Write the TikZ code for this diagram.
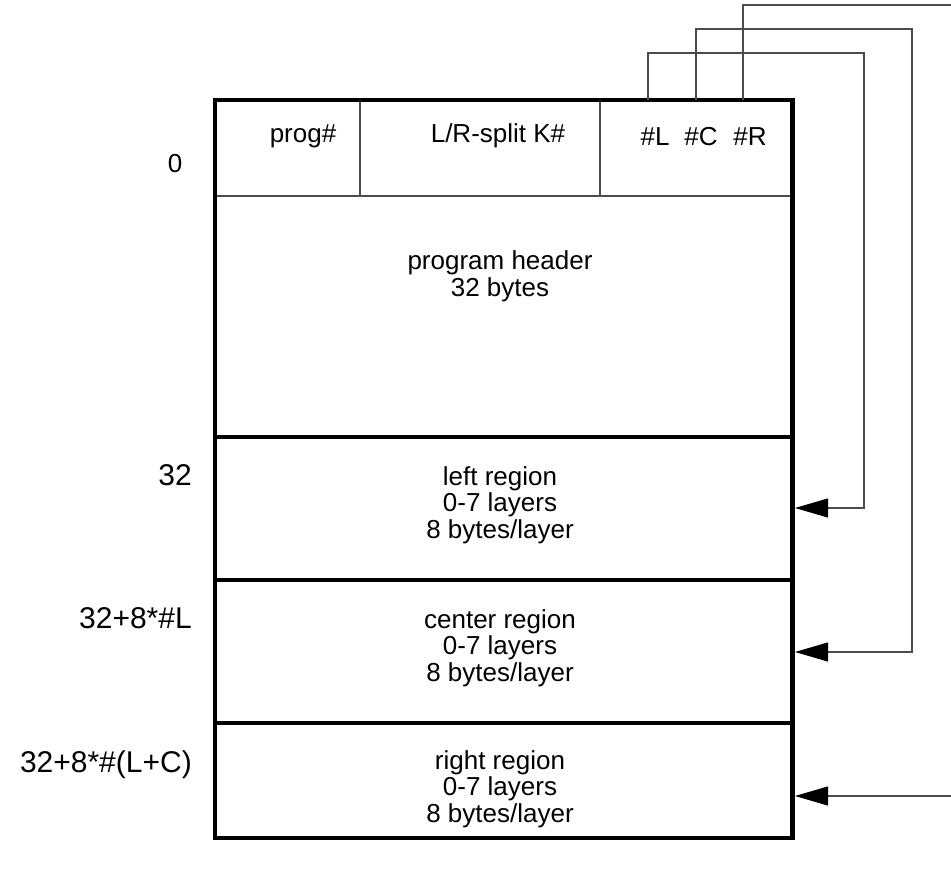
\documentclass[tikz,border=0pt]{standalone}
\usepackage{fontspec}
\setmainfont{Liberation Sans}
\usetikzlibrary{arrows.meta}
\begin{document}
\begin{tikzpicture}[x=1pt,y=-1pt,
  hair/.style={line width=1.1pt, draw=black!70},
  heavy/.style={line width=4.5pt, draw=black},
  lbl/.style={font=\fontsize{26}{26.7}\selectfont, inner sep=0pt, align=center},
  off/.style={font=\fontsize{30}{32}\selectfont, inner sep=0pt, anchor=base east},
  link/.style={line width=1.1pt, draw=black!70},
  tip/.style={-{Triangle[length=33pt,width=19pt,color=black]}}
]
\useasboundingbox (0,0) rectangle (951,869);

% coordinates of the memory box
\coordinate (tl) at (215,100);
\coordinate (br) at (792.5,838);

% header row
\draw[hair] (215,196) -- (792.5,196);
\draw[hair] (360,100) -- (360,196);
\draw[hair] (600,100) -- (600,196);

% region separators
\draw[heavy] (215,437) -- (792.5,437);
\draw[heavy] (215,580) -- (792.5,580);
\draw[heavy] (215,723) -- (792.5,723);
\draw[heavy, line join=miter] (tl) rectangle (br);

% header texts
\node[lbl, anchor=base] (prog) at (303,143) {prog\#};
\node[lbl, anchor=base] (split) at (498,143) {L/R-split K\#};
\node[lbl, anchor=base] (nl) at (655,146) {\#L};
\node[lbl, anchor=base] (nc) at (701,146) {\#C};
\node[lbl, anchor=base] (nr) at (750,146) {\#R};

% region texts
\node[lbl] (hdr) at (500,276) {program header\\32 bytes};
\node[lbl] (lreg) at (500,505) {left region\\0-7 layers\\8 bytes/layer};
\node[lbl] (creg) at (500,648) {center region\\0-7 layers\\8 bytes/layer};
\node[lbl] (rreg) at (500,789) {right region\\0-7 layers\\8 bytes/layer};

% offsets
\node[lbl, anchor=base] (o0) at (175,173) {0};
\node[off] (o32) at (192,485) {32};
\node[off] (oL) at (192,628) {32+8*\#L};
\node[off] (oLC) at (192,772) {32+8*\#(L+C)};

% connector end points
\coordinate (sL) at (648,100);
\coordinate (sC) at (696,100);
\coordinate (sR) at (743,100);
\coordinate (eL) at (795,508);
\coordinate (eC) at (795,652);
\coordinate (eR) at (795,796);
\coordinate (fR) at (951,5);
\coordinate (gR) at (951,796);

\draw[link, tip] (sL) |- (864,53) |- (eL);
\draw[link, tip] (sC) |- (912,29) |- (eC);
\draw[link] (sR) |- (fR);
\draw[link, tip] (gR) -- (eR);
\end{tikzpicture}
\end{document}
